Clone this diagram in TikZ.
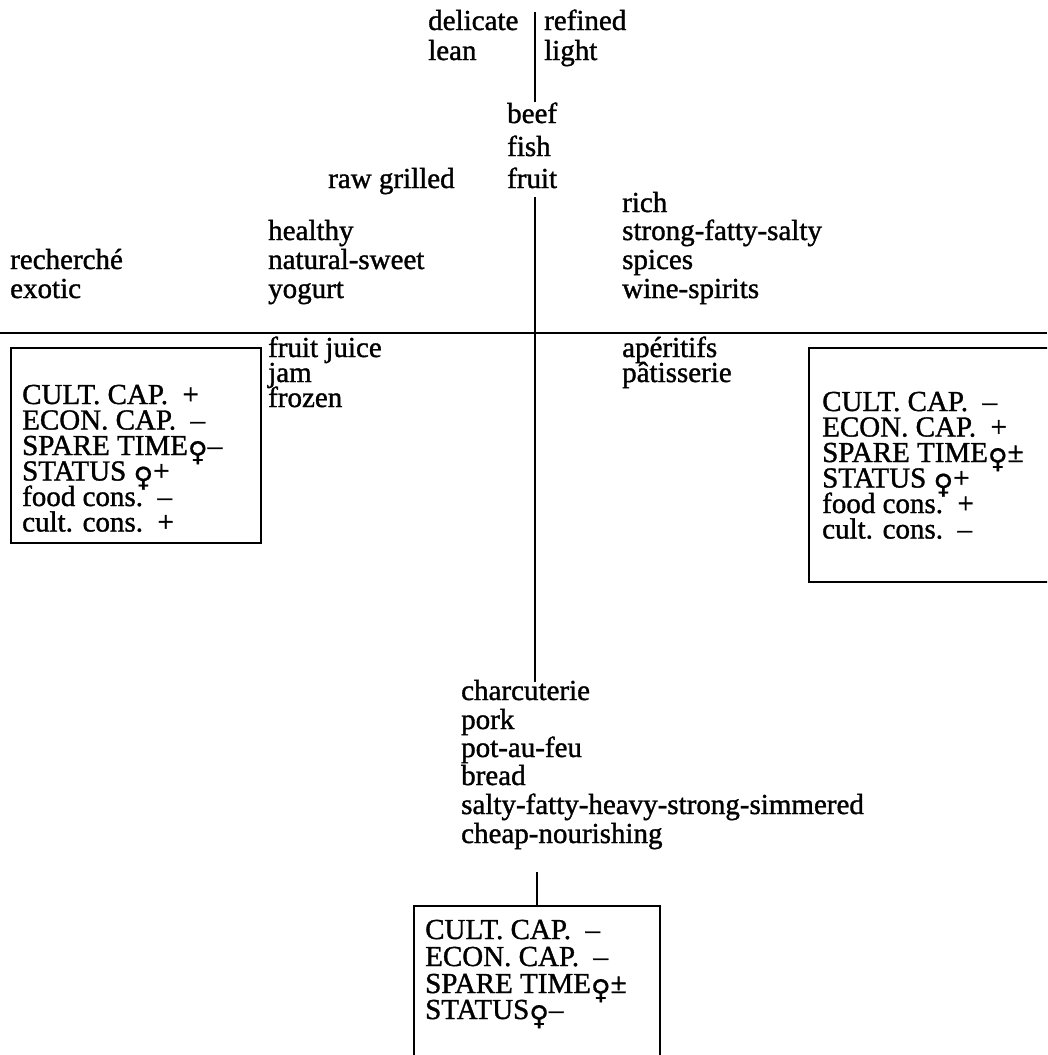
\documentclass[tikz,border=0pt]{standalone}
\usepackage{fontspec}
\setmainfont{Liberation Serif}
\newfontfamily\txtf{Liberation Serif}[FakeBold=1.2]
\newfontfamily\symf{DejaVu Sans}[FakeBold=0.6]
\newcommand\fem{\raisebox{-0.2em}[0pt][0pt]{\symf\fontsize{27}{27}\selectfont ♀}}
\begin{document}
\begin{tikzpicture}[x=1pt,y=-1pt,
  lbl/.style={anchor=base west, inner sep=0pt, font=\txtf\fontsize{29}{30}\selectfont},
  rule/.style={line width=2pt},
  frame/.style={draw, line width=2pt, anchor=north west, inner sep=0pt}]
\useasboundingbox (0,0) rectangle (1047,1055);
\clip (0,0) rectangle (1047,1055);
% top labels
\node[lbl] (delicate) at (428,30) {delicate};
\node[lbl] (lean) at (428,60) {lean};
\node[lbl] (refined) at (544,30) {refined};
\node[lbl] (light) at (544,60) {light};
\node[lbl] (beef) at (507,123) {beef};
\node[lbl] (fish) at (507,156) {fish};
\node[lbl] (fruit) at (507,188) {fruit};
\node[lbl] (rawgrilled) at (328,188) {raw grilled};
\node[lbl] (rich) at (622,212) {rich};
\node[lbl] (strong) at (622,240) {strong-fatty-salty};
\node[lbl] (spices) at (622,269) {spices};
\node[lbl] (wine) at (622,298) {wine-spirits};
\node[lbl] (healthy) at (268,240) {healthy};
\node[lbl] (natural) at (268,269) {natural-sweet};
\node[lbl] (yogurt) at (268,298) {yogurt};
\node[lbl] (recherche) at (10,269) {recherché};
\node[lbl] (exotic) at (10,298) {exotic};
\node[lbl] (fruitjuice) at (268,357) {fruit juice};
\node[lbl] (jam) at (268,382) {jam};
\node[lbl] (frozen) at (268,407) {frozen};
\node[lbl] (aperitifs) at (622,357) {apéritifs};
\node[lbl] (patisserie) at (622,382) {pâtisserie};
% left box
\node[frame, minimum width=250pt, minimum height=195pt] (lbox) at (10,347) {};
\node[lbl] (l1) at (22,404) {CULT. CAP.\ \ +};
\node[lbl] (l2) at (22,429.5) {ECON. CAP.\ \ –};
\node[lbl] (l3) at (22,455) {SPARE TIME\fem–};
\node[lbl] (l4) at (22,480.5) {STATUS \fem+};
\node[lbl] (l5) at (22,506) {food cons.\ \ –};
\node[lbl] (l6) at (22,531.5) {cult. cons.\ \ +};
% right box
\node[frame, minimum width=250pt, minimum height=234pt] (rbox) at (808,347) {};
\node[lbl] (r1) at (822,411) {CULT. CAP.\ \ –};
\node[lbl] (r2) at (822,436.5) {ECON. CAP.\ \ +};
\node[lbl] (r3) at (822,462) {SPARE TIME\fem±};
\node[lbl] (r4) at (822,487.5) {STATUS \fem+};
\node[lbl] (r5) at (822,513) {food cons.\ \ +};
\node[lbl] (r6) at (822,538.5) {cult. cons.\ \ –};
% bottom list
\node[lbl] (charc) at (461,700) {charcuterie};
\node[lbl] (pork) at (461,729) {pork};
\node[lbl] (pot) at (461,757) {pot-au-feu};
\node[lbl] (bread) at (461,785) {bread};
\node[lbl] (salty) at (461,814) {salty-fatty-heavy-strong-simmered};
\node[lbl] (cheap) at (461,843) {cheap-nourishing};
% bottom box
\node[frame, minimum width=246pt, minimum height=160pt] (bbox) at (413,905) {};
\node[lbl] (b1) at (425,939) {CULT. CAP.\ \ –};
\node[lbl] (b2) at (425,966) {ECON. CAP.\ \ –};
\node[lbl] (b3) at (425,993) {SPARE TIME\fem±};
\node[lbl] (b4) at (425,1019) {STATUS\fem–};
% rules
\coordinate (vtop) at (535,12);
\coordinate (vmid) at (535,197);
\coordinate (vlow) at (535,682);
\coordinate (hl) at (0,333);
\coordinate (hr) at (1047,333);
\coordinate (bt) at (537,872);
\draw[rule] (vtop) -- (vtop |- beef.north);
\draw[rule] (vmid) -- (vlow);
\draw[rule] (hl) -- (hr);
\draw[rule] (bt) -- (bt |- bbox.north);
\end{tikzpicture}
\end{document}
